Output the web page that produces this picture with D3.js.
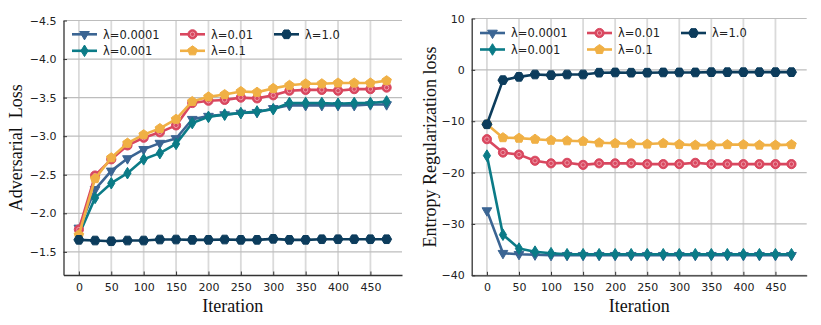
<!DOCTYPE html>
<html>
<head>
<meta charset="utf-8">
<script src="https://cdn.jsdelivr.net/npm/d3@7"></script>
<style>
	body { margin: 0; background: #fff; }
	svg { display: block; }
	.tick text { font-family: "DejaVu Sans", sans-serif; font-size: 11px; fill: #222; }
	.axlabel { font-family: "Liberation Serif", "Times New Roman", serif; font-size: 18px; fill: #111; }
	.legtext { font-family: "DejaVu Sans", sans-serif; font-size: 11.5px; fill: #222; }
</style>
</head>
<body>
<div id="chart"></div>
<script>

// x values (iterations)
var iterations = [0,25,50,75,100,125,150,175,200,225,250,275,300,325,350,375,400,425,450,475];

// series names
var lambdas = ["λ=0.0001", "λ=0.001", "λ=0.01", "λ=0.1", "λ=1.0"];

// left panel: adversarial loss
var adv_0001  = [-1.81,-2.31,-2.55,-2.71,-2.83,-2.91,-2.97,-3.22,-3.26,-3.28,-3.30,-3.31,-3.36,-3.40,-3.40,-3.40,-3.40,-3.40,-3.41,-3.41];
var adv_001   = [-1.72,-2.20,-2.39,-2.52,-2.70,-2.78,-2.90,-3.17,-3.25,-3.28,-3.30,-3.32,-3.35,-3.43,-3.43,-3.43,-3.42,-3.43,-3.43,-3.45];
var adv_01    = [-1.79,-2.49,-2.70,-2.88,-2.98,-3.05,-3.14,-3.43,-3.46,-3.47,-3.50,-3.49,-3.53,-3.59,-3.60,-3.60,-3.59,-3.61,-3.61,-3.63];
var adv_1     = [-1.72,-2.45,-2.72,-2.91,-3.02,-3.10,-3.22,-3.45,-3.51,-3.54,-3.58,-3.57,-3.62,-3.66,-3.68,-3.68,-3.69,-3.69,-3.69,-3.72];
var adv_10    = [-1.656,-1.647,-1.638,-1.647,-1.647,-1.66,-1.66,-1.656,-1.656,-1.66,-1.656,-1.656,-1.669,-1.656,-1.656,-1.664,-1.664,-1.664,-1.664,-1.664];

// right panel: entropy regularization loss
var ent_0001  = [-27.4,-35.7,-35.9,-36.0,-36.1,-36.1,-36.1,-36.1,-36.1,-36.1,-36.1,-36.1,-36.1,-36.1,-36.1,-36.1,-36.1,-36.1,-36.1,-36.1];
var ent_001   = [-16.7,-32.1,-34.8,-35.4,-35.7,-35.9,-35.9,-35.9,-35.9,-35.9,-35.9,-35.9,-35.9,-35.9,-35.9,-35.9,-35.9,-35.9,-35.9,-35.9];
var ent_01    = [-13.5,-16.1,-16.5,-17.7,-18.2,-18.1,-18.5,-18.2,-18.2,-18.2,-18.35,-18.35,-18.35,-18.1,-18.35,-18.35,-18.35,-18.35,-18.35,-18.35];
var ent_1     = [-10.6,-13.2,-13.3,-13.5,-13.7,-13.8,-13.9,-14.2,-14.3,-14.4,-14.45,-14.3,-14.5,-14.65,-14.65,-14.55,-14.55,-14.65,-14.65,-14.55];
var ent_10    = [-10.6,-2.0,-1.36,-0.9,-1.03,-0.9,-0.9,-0.55,-0.5,-0.55,-0.55,-0.5,-0.5,-0.5,-0.45,-0.45,-0.45,-0.45,-0.45,-0.45];

// tick labels
var xTicks = [0,50,100,150,200,250,300,350,400,450];
var advTicks = [-4.5,-4.0,-3.5,-3.0,-2.5,-2.0,-1.5];
var entTicks = [10,0,-10,-20,-30,-40];

var colors = ["#3b6593", "#0b7b87", "#d9475f", "#f0b045", "#0c3c5c"];
var shapes = ["tri", "diamond", "circle", "penta", "hexa"];

var W = 821, H = 325;

var svg = d3.select("#chart").append("svg")
	.attr("width", W)
	.attr("height", H);

// marker path around (0,0)
function polygon(n, r, rot){
	var pts = d3.range(n).map(function(i){
		var a = rot + i * 2 * Math.PI / n;
		return [r * Math.cos(a), r * Math.sin(a)];
	});
	return "M" + pts.map(function(p){ return p.join(","); }).join("L") + "Z";
}
function markerPath(shape){
	if (shape == "tri") return polygon(3, 5.6, Math.PI / 2);
	if (shape == "diamond") return "M0,-5.8L3.6,0L0,5.8L-3.6,0Z";
	if (shape == "penta") return polygon(5, 5, -Math.PI / 2);
	if (shape == "hexa") return polygon(6, 5, 0);
	return null;
}

function drawMarker(g, shape, color, x, y){
	if (shape == "circle"){
		g.append("circle").attr("cx", x).attr("cy", y).attr("r", 4.6)
			.attr("fill", color).attr("stroke", color).attr("stroke-width", 1);
		g.append("circle").attr("cx", x).attr("cy", y).attr("r", 2.2)
			.attr("fill", "none").attr("stroke", "#ee9aa8").attr("stroke-width", 1);
	} else {
		g.append("path").attr("d", markerPath(shape))
			.attr("transform", "translate(" + x + "," + y + ")")
			.attr("fill", color).attr("stroke", color).attr("stroke-width", 1);
	}
}

function drawPanel(cfg){
	var g = svg.append("g");
	var x = d3.scaleLinear().domain([-23.75, 498.75]).range([cfg.left, cfg.right]);
	var y = d3.scaleLinear().domain(cfg.yDomain).range([cfg.bottom, cfg.top]);

	// vertical grid
	g.append("g").selectAll("line").data(xTicks).enter().append("line")
		.attr("x1", function(d){ return x(d); }).attr("x2", function(d){ return x(d); })
		.attr("y1", cfg.top).attr("y2", cfg.bottom)
		.attr("stroke", "#dadada").attr("stroke-width", 1.8);
	// horizontal grid
	g.append("g").selectAll("line").data(cfg.yTicks).enter().append("line")
		.attr("x1", cfg.left).attr("x2", cfg.right)
		.attr("y1", function(d){ return y(d); }).attr("y2", function(d){ return y(d); })
		.attr("stroke", "#bdbdbd").attr("stroke-width", 1.2);

	// axes, ticks pointing inward
	var xAxis = d3.axisBottom(x).tickValues(xTicks).tickSizeInner(-3.5).tickSizeOuter(0).tickPadding(8);
	var yAxis = d3.axisLeft(y).tickValues(cfg.yTicks).tickSizeInner(-3.5).tickSizeOuter(0).tickPadding(7)
		.tickFormat(cfg.yFormat);
	var gx = g.append("g").attr("transform", "translate(0," + cfg.bottom + ")").call(xAxis);
	var gy = g.append("g").attr("transform", "translate(" + cfg.left + ",0)").call(yAxis);
	[gx, gy].forEach(function(a){
		a.select(".domain").attr("stroke", "#333").attr("stroke-width", 1.3);
		a.selectAll(".tick line").attr("stroke", "#333").attr("stroke-width", 1);
	});

	// series
	var line = d3.line()
		.x(function(d, i){ return x(iterations[i]); })
		.y(function(d){ return y(d); });
	cfg.series.forEach(function(s, k){
		var sg = g.append("g");
		sg.append("path").datum(s)
			.attr("d", line)
			.attr("fill", "none")
			.attr("stroke", colors[k])
			.attr("stroke-width", 2.6)
			.attr("stroke-linejoin", "round");
		s.forEach(function(v, i){
			drawMarker(sg, shapes[k], colors[k], x(iterations[i]), y(v));
		});
	});

	// legend (column-major, 3 columns)
	var lg = g.append("g");
	lambdas.forEach(function(name, k){
		var col = Math.floor(k / 2), row = k % 2;
		var lx = cfg.legX[col], ly = cfg.legY + row * 16.5;
		lg.append("line").attr("x1", lx).attr("x2", lx + 25).attr("y1", ly).attr("y2", ly)
			.attr("stroke", colors[k]).attr("stroke-width", 2.6);
		drawMarker(lg, shapes[k], colors[k], lx + 12.5, ly);
		lg.append("text").attr("class", "legtext")
			.attr("x", lx + 31).attr("y", ly + 4.2)
			.text(name);
	});

	// axis labels
	g.append("text").attr("class", "axlabel")
		.attr("text-anchor", "middle")
		.attr("x", (cfg.left + cfg.right) / 2).attr("y", 312)
		.text("Iteration");
	g.append("text").attr("class", "axlabel")
		.attr("text-anchor", "middle")
		.attr("transform", "translate(" + cfg.yLabelX + "," + ((cfg.top + cfg.bottom) / 2) + ") rotate(-90)")
		.text(cfg.yLabel);
}

var minusFmt = function(f){ return function(d){ return d3.format(f)(d).replace("-", "−"); }; };

drawPanel({
	left: 63.5, right: 402, top: 20.5, bottom: 275,
	yDomain: [-1.2, -4.5],
	yTicks: advTicks,
	yFormat: minusFmt(".1f"),
	series: [adv_0001, adv_001, adv_01, adv_1, adv_10],
	legX: [72, 180, 274], legY: 34.3,
	yLabel: "Adversarial\u00a0\u00a0Loss", yLabelX: 22
});

drawPanel({
	left: 471.7, right: 806.7, top: 18.5, bottom: 275.3,
	yDomain: [-40, 10],
	yTicks: entTicks,
	yFormat: minusFmt("d"),
	series: [ent_0001, ent_001, ent_01, ent_1, ent_10],
	legX: [480, 587, 681], legY: 33,
	yLabel: "Entropy Regularization loss", yLabelX: 436
});

</script>
</body>
</html>
